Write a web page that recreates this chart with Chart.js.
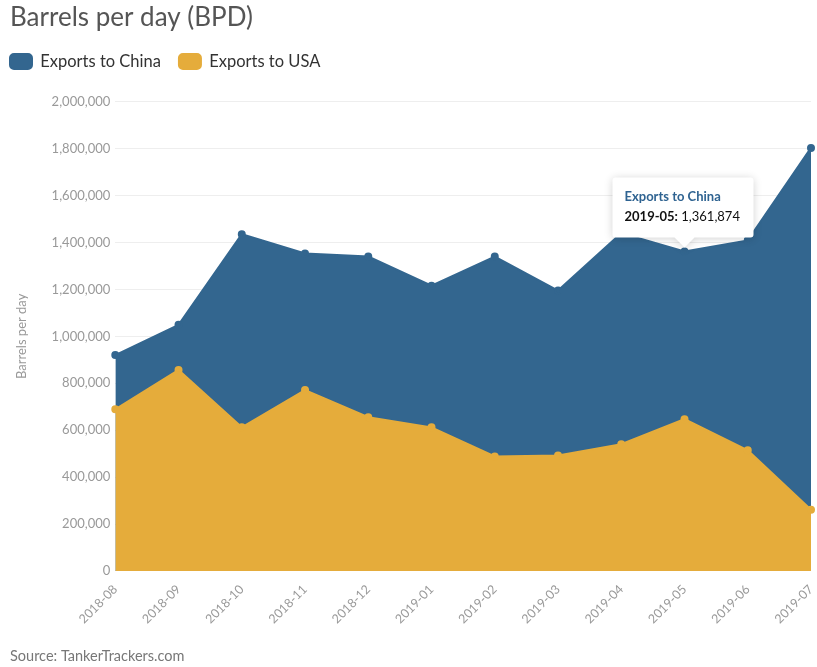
<!DOCTYPE html>
<html>
<head>
<meta charset="utf-8">
<script src="https://cdn.jsdelivr.net/npm/chart.js@4/dist/chart.umd.min.js"></script>
<style>
  html, body { margin: 0; padding: 0; background: #fff; }
  #wrap { width: 817px; height: 667px; position: relative; }
</style>
</head>
<body>
<div id="wrap"><canvas id="chart"></canvas></div>
<script>
// months on the x axis
const months = ["2018-08", "2018-09", "2018-10", "2018-11", "2018-12", "2019-01",
                "2019-02", "2019-03", "2019-04", "2019-05", "2019-06", "2019-07"];

// barrels per day
const chinaBpd = [920000, 1049000, 1435000, 1353000, 1340000, 1216000,
                  1340000, 1195000, 1440000, 1361874, 1409000, 1803000];
const usaBpd   = [689000, 857000, 612000, 771000, 655000, 612000,
                  488000, 492000, 540000, 647000, 514000, 261000];

const BLUE = "#33668f";
const GOLD = "#e5ac3b";
const FONT = "Lato, 'Open Sans', sans-serif";

// which point gets the pinned tooltip
const pinnedSeries = 0;
const pinnedIndex = 9;

const fmt = v => Number(v).toLocaleString("en-US");

// ─── HEADER SPACING ──────────────────────────────────────────
// indent title / source / legend, and leave a gap under the legend
const headerSpacing = {
    id: "headerSpacing",
    beforeInit(chart) {
        const lg = chart.legend;
        const fit = lg.fit;
        lg.fit = function () {
            fit.call(this);
            this.height += 22;
        };
    },
    afterLayout(chart) {
        chart.boxes.forEach(b => {
            if (b === chart.legend) {
                b.left -= 8;
                b.right -= 8;
            } else if (b.options && typeof b.options.text === "string") {
                b.left += 10;
                b.right += 10;
            }
        });
    }
};

// ─── PINNED TOOLTIP ──────────────────────────────────────────
const pinnedTip = {
    id: "pinnedTip",
    afterDraw(chart) {
        const ds = chart.data.datasets[pinnedSeries];
        const pt = chart.getDatasetMeta(pinnedSeries).data[pinnedIndex];
        const ctx = chart.ctx;
        const w = 141, h = 60, caret = 10;
        const tipX = pt.x, tipY = pt.y - 4;
        const left = tipX - 72, top = tipY - caret - h;

        ctx.save();
        ctx.shadowColor = "rgba(0,0,0,0.18)";
        ctx.shadowBlur = 8;
        ctx.shadowOffsetY = 1;
        ctx.fillStyle = "#fff";
        ctx.beginPath();
        ctx.moveTo(left + 3, top);
        ctx.lineTo(left + w - 3, top);
        ctx.quadraticCurveTo(left + w, top, left + w, top + 3);
        ctx.lineTo(left + w, top + h - 3);
        ctx.quadraticCurveTo(left + w, top + h, left + w - 3, top + h);
        ctx.lineTo(tipX + caret, top + h);
        ctx.lineTo(tipX, tipY);
        ctx.lineTo(tipX - caret, top + h);
        ctx.lineTo(left + 3, top + h);
        ctx.quadraticCurveTo(left, top + h, left, top + h - 3);
        ctx.lineTo(left, top + 3);
        ctx.quadraticCurveTo(left, top, left + 3, top);
        ctx.closePath();
        ctx.fill();
        ctx.restore();

        ctx.save();
        ctx.textBaseline = "middle";
        ctx.textAlign = "left";
        ctx.fillStyle = "#2f6391";
        ctx.font = "bold 13px " + FONT;
        ctx.fillText(ds.label, left + 12, top + 19);
        const label = chart.data.labels[pinnedIndex] + ":";
        ctx.fillStyle = "#111";
        ctx.font = "bold 13px " + FONT;
        ctx.fillText(label, left + 12, top + 39);
        const lw = ctx.measureText(label).width;
        ctx.font = "13px " + FONT;
        ctx.fillText(" " + fmt(ds.data[pinnedIndex]), left + 12 + lw, top + 39);
        ctx.restore();
    }
};

// ─── CHART ───────────────────────────────────────────────────
const ctx = document.getElementById("chart").getContext("2d");
const chart = new Chart(ctx, {
    type: "line",
    data: {
        labels: months,
        datasets: [
            {
                label: "Exports to China",
                data: chinaBpd,
                borderColor: BLUE,
                backgroundColor: BLUE,
                pointBackgroundColor: BLUE,
                borderWidth: 2,
                pointRadius: 3,
                tension: 0,
                fill: "origin",
                order: 2
            },
            {
                label: "Exports to USA",
                data: usaBpd,
                borderColor: GOLD,
                backgroundColor: GOLD,
                pointBackgroundColor: GOLD,
                borderWidth: 2,
                pointRadius: 3,
                tension: 0,
                fill: "origin",
                order: 1
            }
        ]
    },
    options: {
        responsive: true,
        maintainAspectRatio: false,
        animation: false,
        layout: { padding: { left: 0, right: 6, top: 0, bottom: 2 } },
        plugins: {
            title: {
                display: true,
                text: "Barrels per day (BPD)",
                align: "start",
                color: "#555",
                font: { family: FONT, size: 26, weight: "normal" },
                padding: { top: 2, bottom: 2 }
            },
            subtitle: {
                display: true,
                position: "bottom",
                text: "Source: TankerTrackers.com",
                align: "start",
                color: "#777",
                font: { family: FONT, size: 14.5 },
                padding: { top: 18, bottom: 0 }
            },
            legend: {
                align: "start",
                labels: {
                    color: "#333",
                    font: { family: FONT, size: 16.5 },
                    boxWidth: 22,
                    boxHeight: 15,
                    useBorderRadius: true,
                    borderRadius: 4,
                    padding: 18,
                    sort: (a, b) => a.datasetIndex - b.datasetIndex
                }
            },
            tooltip: { enabled: false }
        },
        scales: {
            x: {
                offset: false,
                grid: { display: false },
                border: { display: false },
                // last rotated label hangs to the left, so no room is needed on the right
                afterFit: scale => { scale.paddingRight = 0; },
                ticks: {
                    color: "#999",
                    font: { family: FONT, size: 12.5 },
                    minRotation: 45,
                    maxRotation: 45
                }
            },
            y: {
                min: 0,
                max: 2000000,
                grid: { color: "#eeeeee", drawTicks: false },
                border: { display: false },
                title: {
                    display: true,
                    text: "Barrels per day",
                    color: "#999",
                    font: { family: FONT, size: 13 },
                    padding: { top: 14, bottom: 17 }
                },
                ticks: {
                    stepSize: 200000,
                    color: "#999",
                    padding: 5,
                    font: { family: FONT, size: 13 },
                    callback: v => fmt(v)
                }
            }
        }
    },
    plugins: [headerSpacing, pinnedTip]
});
</script>
</body>
</html>
